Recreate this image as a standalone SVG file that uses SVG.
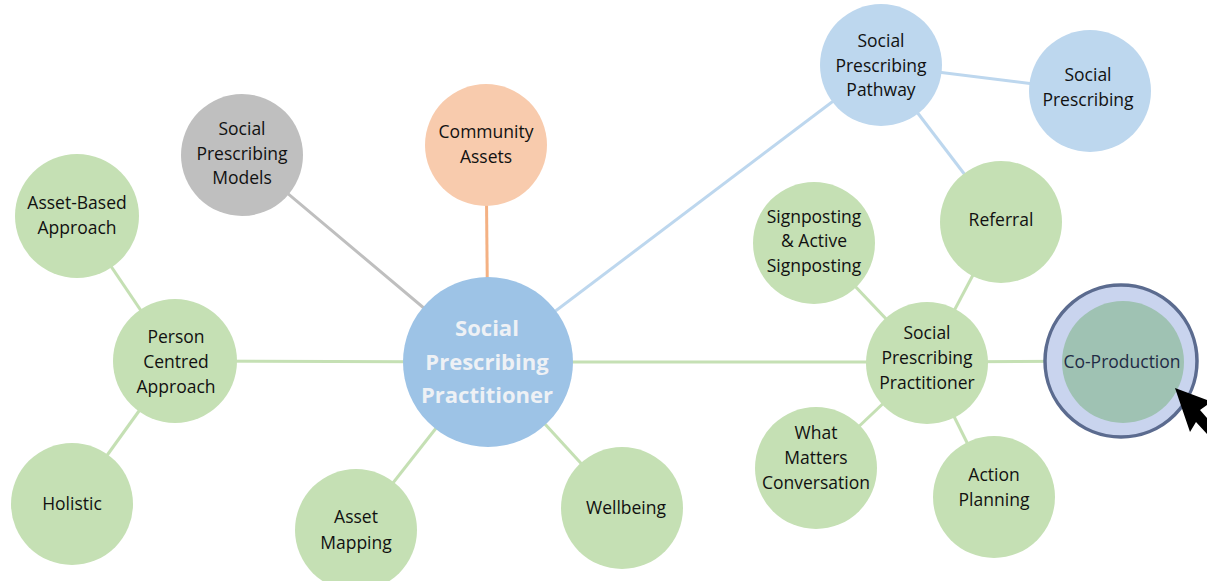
<svg xmlns="http://www.w3.org/2000/svg" width="1207" height="581" viewBox="0 0 1207 581">
<style>
.g{fill:#c5e0b4}
.b{fill:#bdd7ee}
.t{font-family:"Open Sans","Liberation Sans",sans-serif;font-size:17.5px;fill:#111111;text-anchor:middle}
.big{font-family:"Open Sans","Liberation Sans",sans-serif;font-size:22px;font-weight:bold;fill:#eef1f5;text-anchor:middle}
.lg{stroke:#c5e0b4;stroke-width:3;fill:none}
.lb{stroke:#bdd7ee;stroke-width:3;fill:none}
</style>
<rect width="1207" height="581" fill="#ffffff"/>
<g id="connectors">
<line class="lg" x1="175" y1="361" x2="488" y2="362"/>
<line class="lg" x1="488" y1="362" x2="927" y2="362"/>
<line class="lg" x1="175" y1="361" x2="77" y2="216"/>
<line class="lg" x1="175" y1="361" x2="72" y2="504"/>
<line class="lg" x1="488" y1="362" x2="356" y2="530"/>
<line class="lg" x1="488" y1="362" x2="622" y2="508"/>
<line class="lg" x1="927" y1="362" x2="814" y2="243"/>
<line class="lg" x1="927" y1="362" x2="1001" y2="222"/>
<line class="lg" x1="927" y1="362" x2="816" y2="467"/>
<line class="lg" x1="927" y1="362" x2="994" y2="497"/>
<line class="lg" x1="927" y1="362" x2="1121" y2="361"/>
<line stroke="#bfbfbf" stroke-width="3" x1="242" y1="155" x2="488" y2="362"/>
<line stroke="#f4b183" stroke-width="3" x1="486" y1="145" x2="488" y2="362"/>
<line class="lb" x1="488" y1="362" x2="881" y2="65"/>
<line class="lb" x1="881" y1="65" x2="1090" y2="91"/>
<line class="lb" x1="881" y1="65" x2="1001" y2="222"/>
</g>
<g id="node-center">
<circle cx="488" cy="362" r="85" fill="#9dc3e6"/>
<text class="big" x="487" y="336">Social</text>
<text class="big" x="487" y="370">Prescribing</text>
<text class="big" x="487" y="403">Practitioner</text>
</g>
<g id="node-community-assets">
<circle cx="486" cy="145" r="61" fill="#f8cbad"/>
<text class="t" x="486" y="138">Community</text>
<text class="t" x="486" y="163">Assets</text>
</g>
<g id="node-models">
<circle cx="242" cy="155" r="61" fill="#bfbfbf"/>
<text class="t" x="242" y="135">Social</text>
<text class="t" x="242" y="160">Prescribing</text>
<text class="t" x="242" y="184">Models</text>
</g>
<g id="node-asset-based">
<circle class="g" cx="77" cy="216" r="62"/>
<text class="t" x="77" y="209">Asset-Based</text>
<text class="t" x="77" y="234">Approach</text>
</g>
<g id="node-person-centred">
<circle class="g" cx="175" cy="361" r="62"/>
<text class="t" x="176" y="343">Person</text>
<text class="t" x="176" y="368">Centred</text>
<text class="t" x="176" y="393">Approach</text>
</g>
<g id="node-holistic">
<circle class="g" cx="72" cy="504" r="61"/>
<text class="t" x="72" y="510">Holistic</text>
</g>
<g id="node-asset-mapping">
<circle class="g" cx="356" cy="530" r="61"/>
<text class="t" x="356" y="523">Asset</text>
<text class="t" x="356" y="549">Mapping</text>
</g>
<g id="node-wellbeing">
<circle class="g" cx="622" cy="508" r="61"/>
<text class="t" x="626" y="514">Wellbeing</text>
</g>
<g id="node-pathway">
<circle class="b" cx="881" cy="65" r="61"/>
<text class="t" x="881" y="47">Social</text>
<text class="t" x="881" y="72">Prescribing</text>
<text class="t" x="881" y="96">Pathway</text>
</g>
<g id="node-social-prescribing">
<circle class="b" cx="1090" cy="91" r="61"/>
<text class="t" x="1088" y="81">Social</text>
<text class="t" x="1088" y="106">Prescribing</text>
</g>
<g id="node-referral">
<circle class="g" cx="1001" cy="222" r="61"/>
<text class="t" x="1001" y="226">Referral</text>
</g>
<g id="node-signposting">
<circle class="g" cx="814" cy="243" r="61"/>
<text class="t" x="814" y="223">Signposting</text>
<text class="t" x="814" y="247">&amp; Active</text>
<text class="t" x="814" y="272">Signposting</text>
</g>
<g id="node-sp-practitioner">
<circle class="g" cx="927" cy="363" r="61"/>
<text class="t" x="927" y="339">Social</text>
<text class="t" x="927" y="364">Prescribing</text>
<text class="t" x="927" y="389">Practitioner</text>
</g>
<g id="node-what-matters">
<circle class="g" cx="816" cy="468" r="61"/>
<text class="t" x="816" y="439">What</text>
<text class="t" x="816" y="464">Matters</text>
<text class="t" x="816" y="489">Conversation</text>
</g>
<g id="node-action-planning">
<circle class="g" cx="994" cy="497" r="61"/>
<text class="t" x="994" y="481">Action</text>
<text class="t" x="994" y="506">Planning</text>
</g>
<g id="node-co-production">
<circle cx="1121" cy="361" r="76" fill="#c9d4ee" stroke="#5b6b8f" stroke-width="3.5"/>
<circle cx="1123" cy="362" r="61" fill="#9fc2b3"/>
<text class="t" x="1122" y="368" style="fill:#1f2b45">Co-Production</text>
</g>
<g id="cursor">
<path d="M1175,388 L1207,400 L1207,405 L1200,410 L1207,418 L1207,434 L1196,422 L1190,432 Z" fill="#000000"/>
</g>
</svg>
